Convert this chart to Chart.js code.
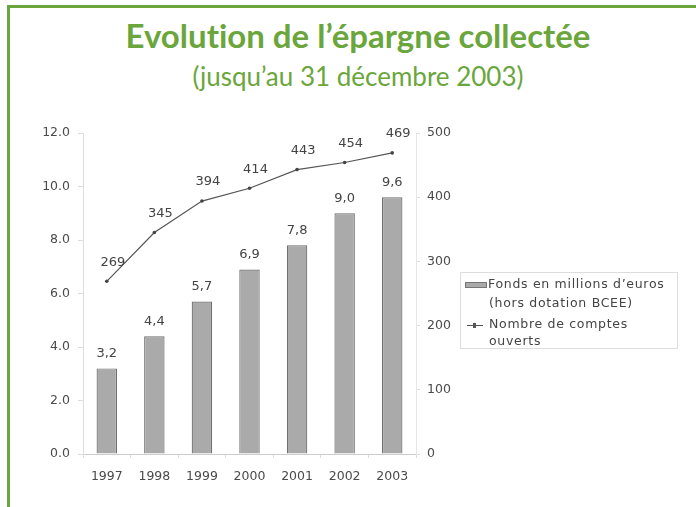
<!DOCTYPE html>
<html>
<head>
<meta charset="utf-8">
<script src="https://cdn.jsdelivr.net/npm/chart.js@4.4.0/dist/chart.umd.min.js"></script>
<style>
  html, body { margin: 0; padding: 0; background: #fff; }
  #page { position: relative; width: 696px; height: 507px; overflow: hidden; }
  #frame { position: absolute; left: 7px; top: 5px; width: 700px; height: 520px;
           border-top: 3px solid #6aa63c; border-left: 3px solid #6aa63c; }
  #title { position: absolute; left: 0; width: 716px; top: 15px; text-align: center;
           font-family: Lato, sans-serif; font-weight: 700; font-size: 33px; color: #6aa63c;
           font-variant-ligatures: none; }
  #subtitle { position: absolute; left: 0; width: 716px; top: 60px; text-align: center;
              font-family: Lato, sans-serif; font-size: 26px; color: #6aa63c;
              font-variant-ligatures: none; }
  #legend { position: absolute; left: 460px; top: 272px; width: 216px; height: 75px;
            border: 1px solid #ddd; font-family: "DejaVu Sans", sans-serif;
            font-size: 12.5px; letter-spacing: 0.7px; color: #444; }
  #legend div { position: absolute; white-space: nowrap; }
  .swatch { left: 4px; top: 9px; width: 20px; height: 4px; background: #aaa; border: 1px solid #777; }
  .lineSw { left: 6px; top: 52px; width: 16px; height: 1px; background: #555; }
  .lineSw::after { content: ""; position: absolute; left: 6px; top: -2px; width: 3px; height: 5px; background: #555; }
  #c { position: absolute; left: 0; top: 0; }
</style>
</head>
<body>
<div id="page">
  <div id="frame"></div>
  <div id="title">Evolution de l’épargne collectée</div>
  <div id="subtitle">(jusqu’au 31 décembre 2003)</div>
  <canvas id="c" width="696" height="507"></canvas>
  <div id="legend">
    <div class="swatch"></div>
    <div style="left:27px; top:3px;">Fonds en millions d’euros</div>
    <div style="left:28px; top:22px;">(hors dotation BCEE)</div>
    <div class="lineSw"></div>
    <div style="left:28px; top:43px;">Nombre de comptes</div>
    <div style="left:28px; top:60px;">ouverts</div>
  </div>
</div>
<script>
const years = ["1997", "1998", "1999", "2000", "2001", "2002", "2003"];
const fonds = [3.2, 4.4, 5.7, 6.9, 7.8, 9.0, 9.6];
const comptes = [269, 345, 394, 414, 443, 454, 469];

const valueLabels = {
	id: "valueLabels",
	afterDatasetsDraw(chart) {
		const ctx = chart.ctx;
		ctx.save();
		ctx.font = "13px 'DejaVu Sans', sans-serif";
		ctx.fillStyle = "#444";
		ctx.textAlign = "center";
		ctx.textBaseline = "middle";
		chart.getDatasetMeta(1).data.forEach((bar, i) => {
			ctx.fillText(fonds[i].toFixed(1).replace(".", ","), bar.x, bar.y - 15);
		});
		chart.getDatasetMeta(0).data.forEach((pt, i) => {
			ctx.fillText(String(comptes[i]), pt.x + 6, pt.y - 19);
		});
		ctx.restore();
	}
};

const tickFont = { family: "'DejaVu Sans', sans-serif", size: 12.5 };

new Chart(document.getElementById("c"), {
	type: "bar",
	data: {
		labels: years,
		datasets: [
			{
				type: "line",
				label: "Nombre de comptes ouverts",
				data: comptes,
				yAxisID: "y2",
				borderColor: "#555",
				borderWidth: 1.2,
				pointRadius: 1.8,
				pointBackgroundColor: "#444",
				pointBorderWidth: 0,
				tension: 0,
				order: 0
			},
			{
				label: "Fonds en millions d'euros (hors dotation BCEE)",
				data: fonds,
				yAxisID: "y",
				backgroundColor: "#aaaaaa",
				borderColor: "#707070",
				borderWidth: 1.2,
				categoryPercentage: 1,
				barPercentage: 0.43,
				order: 1
			}
		]
	},
	options: {
		responsive: false,
		animation: false,
		layout: { padding: { left: 10, right: 235, top: 133, bottom: 13 } },
		plugins: { legend: { display: false }, tooltip: { enabled: false } },
		scales: {
			x: {
				grid: { display: true, drawOnChartArea: false, color: "#ddd", tickLength: 4 },
				border: { color: "#ccc" },
				ticks: { font: tickFont, color: "#4a4a4a", padding: 11 },
				afterFit(s) { s.height = 40; }
			},
			y: {
				position: "left",
				min: 0, max: 12,
				grid: { display: true, drawOnChartArea: false, color: "#ddd", tickLength: 5 },
				border: { color: "#ddd" },
				ticks: { stepSize: 2, font: tickFont, color: "#4a4a4a", padding: 8,
					callback: v => v.toFixed(1) },
				afterFit(s) { s.width = 73; }
			},
			y2: {
				position: "right",
				min: 0, max: 500,
				grid: { display: true, drawOnChartArea: false, color: "#ddd", tickLength: 4 },
				border: { color: "#e6e6e6" },
				ticks: { stepSize: 100, font: tickFont, color: "#4a4a4a", padding: 7 },
				afterFit(s) { s.width = 45; }
			}
		}
	},
	plugins: [valueLabels]
});
</script>
</body>
</html>
